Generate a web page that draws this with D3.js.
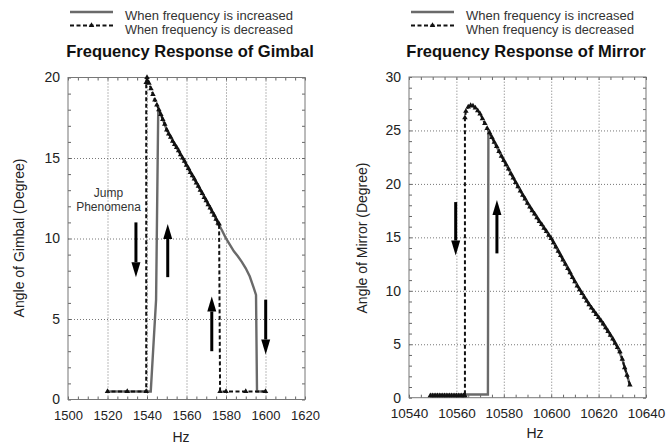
<!DOCTYPE html>
<html>
<head>
<meta charset="utf-8">
<script src="https://cdn.jsdelivr.net/npm/d3@7"></script>
<style>
  body { margin: 0; background: #fff; }
  svg { font-family: Arial, "Liberation Sans", sans-serif; }
</style>
</head>
<body>
<svg width="666" height="444"></svg>
<script>
// ---- Gimbal data (Hz, degree) ----
var gimbalTicksX = [1500, 1520, 1540, 1560, 1580, 1600, 1620];
var gimbalTicksY = [0, 5, 10, 15, 20];
// frequency increased (solid)
var gimbalUp = [[1520,0.5],[1530,0.5],[1541.9,0.5],[1544.6,6.2],[1545.7,18.1],[1548,17.4],[1550,16.75],
  [1552,16.3],[1555,15.65],[1558,15.0],[1562,14.1],[1566,13.25],[1570,12.35],[1574,11.45],[1576,10.95],
  [1578,10.5],[1580,10.0],[1582,9.6],[1584,9.2],[1586,8.9],[1588,8.55],[1590,8.15],[1592,7.65],
  [1594,6.95],[1595.2,6.5],[1595.7,0.5],[1600,0.5]];
// frequency decreased (dashed + triangles)
var gimbalDown = [[1600,0.5],[1590,0.5],[1580,0.5],[1577,0.5],[1576.5,10.9],[1576,10.95],[1575,11.2],
  [1574,11.45],[1573,11.65],[1572,11.9],[1571,12.1],[1570,12.35],[1569,12.55],[1568,12.8],[1567,13.0],
  [1566,13.25],[1565,13.45],[1564,13.7],[1563,13.9],[1562,14.1],[1561,14.35],[1560,14.55],[1559,14.8],
  [1558,15.0],[1557,15.2],[1556,15.45],[1555,15.65],[1554,15.85],[1553,16.05],[1552,16.3],[1551,16.5],
  [1550,16.75],[1549,17.1],[1548,17.4],[1547,17.7],[1546,18.0],[1545,18.3],[1544,18.6],[1543,18.95],
  [1542,19.3],[1541,19.65],[1540,20.0],[1539.6,19.7],[1539.6,0.5],[1530,0.5],[1520,0.5]];
// arrows: [freq, from angle, to angle]
var gimbalArrows = [[1534.4,11.0,7.6],[1550.5,7.6,10.9],[1572.8,3.0,6.4],[1600.1,6.2,2.8]];

// ---- Mirror data (Hz, degree) ----
var mirrorTicksX = [10540, 10560, 10580, 10600, 10620, 10640];
var mirrorTicksY = [0, 5, 10, 15, 20, 25, 30];
var mirrorUp = [[10549,0.3],[10573.3,0.3],[10573.5,25.0],[10576,23.9],[10580,22.2],[10585,20.15],
  [10590,18.2],[10595,16.5],[10600,14.9],[10605,12.9],[10610,10.85],[10615,9.05],[10620,7.5],
  [10625,5.85],[10628,4.7],[10630,3.6],[10633.2,1.2]];
var mirrorDown = [[10633.2,1.2],[10632,2.1],[10631,2.8],[10630,3.6],[10629,4.3],[10628,4.7],[10627,5.1],
  [10626,5.5],[10625,5.85],[10624,6.2],[10623,6.55],[10622,6.9],[10621,7.2],[10620,7.5],[10619,7.8],
  [10618,8.1],[10617,8.4],[10616,8.7],[10615,9.05],[10614,9.4],[10613,9.75],[10612,10.1],[10611,10.45],
  [10610,10.85],[10609,11.25],[10608,11.7],[10607,12.1],[10606,12.5],[10605,12.9],[10604,13.3],
  [10603,13.7],[10602,14.1],[10601,14.5],[10600,14.9],[10599,15.2],[10598,15.55],[10597,15.85],
  [10596,16.2],[10595,16.5],[10594,16.85],[10593,17.2],[10592,17.5],[10591,17.85],[10590,18.2],
  [10589,18.6],[10588,18.95],[10587,19.35],[10586,19.75],[10585,20.15],[10584,20.55],[10583,20.95],
  [10582,21.4],[10581,21.8],[10580,22.2],[10579,22.6],[10578,23.05],[10577,23.5],[10576,23.9],
  [10575,24.35],[10574,24.8],[10573,25.2],[10572,25.65],[10571,26.1],[10570,26.55],[10569,26.85],
  [10568,27.1],[10567,27.3],[10566,27.35],[10565,27.2],[10564,26.8],[10563.6,26.2],[10563.6,0.2],
  [10563,0.2],[10562,0.2],[10561,0.2],[10560,0.2],[10559,0.2],[10558,0.2],[10557,0.2],[10556,0.2],
  [10555,0.2],[10554,0.2],[10553,0.2],[10552,0.2],[10551,0.2],[10550,0.2],[10549,0.2]];
var mirrorArrows = [[10559.7,18.3,13.3],[10577.1,13.5,18.5]];

var legendLabels = ["When frequency is increased", "When frequency is decreased"];

var svg = d3.select("svg");
var tri = d3.symbol().type(d3.symbolTriangle).size(13);

function panel(o) {
  var x = d3.scaleLinear().domain(o.xDomain).range([o.left, o.right]);
  var y = d3.scaleLinear().domain(o.yDomain).range([o.bottom, o.top]);
  var g = svg.append("g");
  var w = o.right - o.left, h = o.bottom - o.top;

  // grid
  g.append("g").attr("transform", "translate(0," + o.bottom + ")")
    .call(d3.axisBottom(x).tickValues(o.ticksX.slice(1, -1)).tickSize(-h).tickFormat(""))
    .call(a => a.select(".domain").remove())
    .selectAll("line").attr("stroke", "#777").attr("stroke-dasharray", "1,2");
  g.append("g").attr("transform", "translate(" + o.left + ",0)")
    .call(d3.axisLeft(y).tickValues(o.ticksY.slice(1, -1)).tickSize(-w).tickFormat(""))
    .call(a => a.select(".domain").remove())
    .selectAll("line").attr("stroke", "#777").attr("stroke-dasharray", "1,2");

  // minor ticks on all four sides
  var mx = d3.range(o.xDomain[0], o.xDomain[1] + 0.01, o.minorX);
  var my = d3.range(o.yDomain[0], o.yDomain[1] + 0.01, o.minorY);
  var sides = [
    [d3.axisBottom(x).tickValues(mx), "translate(0," + o.bottom + ")"],
    [d3.axisTop(x).tickValues(mx), "translate(0," + o.top + ")"],
    [d3.axisLeft(y).tickValues(my), "translate(" + o.left + ",0)"],
    [d3.axisRight(y).tickValues(my), "translate(" + o.right + ",0)"]
  ];
  sides.forEach(function(s) {
    g.append("g").attr("transform", s[1])
      .call(s[0].tickSize(-3).tickFormat(""))
      .call(a => a.select(".domain").remove())
      .selectAll("line").attr("stroke", "#666");
  });

  // frame
  g.append("rect").attr("x", o.left).attr("y", o.top).attr("width", w).attr("height", h)
    .attr("fill", "none").attr("stroke", "#777").attr("stroke-width", 1);

  // tick labels
  g.append("g").attr("transform", "translate(0," + (o.bottom + 7) + ")")
    .call(d3.axisBottom(x).tickValues(o.ticksX).tickSize(0).tickPadding(4).tickFormat(d3.format("d")))
    .call(a => a.select(".domain").remove())
    .selectAll("text").attr("font-size", o.xFont).attr("fill", "#222").attr("font-family", null);
  g.append("g").attr("transform", "translate(" + (o.left - 6) + ",0)")
    .call(d3.axisLeft(y).tickValues(o.ticksY).tickSize(0).tickPadding(2).tickFormat(d3.format("d")))
    .call(a => a.select(".domain").remove())
    .selectAll("text").attr("font-size", 14).attr("fill", "#222").attr("font-family", null);

  // lines
  var line = d3.line().x(d => x(d[0])).y(d => y(d[1]));
  g.append("path").datum(o.up).attr("d", line).attr("fill", "none")
    .attr("stroke", "#6a6a6a").attr("stroke-width", 2.4);
  g.append("path").datum(o.down).attr("d", line).attr("fill", "none")
    .attr("stroke", "#111").attr("stroke-width", 2).attr("stroke-dasharray", "4,2.5");
  g.selectAll(".mk").data(o.down).enter().append("path")
    .attr("d", tri).attr("fill", "#111")
    .attr("transform", d => "translate(" + x(d[0]) + "," + y(d[1]) + ")");

  // arrows
  o.arrows.forEach(function(a) {
    var ax = x(a[0]), y0 = y(a[1]), y1 = y(a[2]);
    var dir = y1 > y0 ? 1 : -1;
    var base = y1 - dir * 15;
    g.append("line").attr("x1", ax).attr("x2", ax).attr("y1", y0).attr("y2", base)
      .attr("stroke", "#000").attr("stroke-width", 3);
    g.append("path")
      .attr("d", "M" + (ax - 4.5) + "," + base + "L" + (ax + 4.5) + "," + base + "L" + ax + "," + y1 + "Z")
      .attr("fill", "#000");
  });

  // titles and legend
  g.append("text").attr("x", o.titleX).attr("y", 57).attr("text-anchor", "middle")
    .attr("font-size", 16.5).attr("font-weight", "bold").attr("fill", "#111").text(o.title);
  g.append("line").attr("x1", o.legX).attr("x2", o.legX + 43).attr("y1", 12).attr("y2", 12)
    .attr("stroke", "#6a6a6a").attr("stroke-width", 2.4);
  g.append("line").attr("x1", o.legX).attr("x2", o.legX + 43).attr("y1", 25.5).attr("y2", 25.5)
    .attr("stroke", "#111").attr("stroke-width", 2).attr("stroke-dasharray", "4,2.5");
  g.append("path").attr("d", tri).attr("fill", "#111")
    .attr("transform", "translate(" + (o.legX + 21.5) + ",25.5)");
  legendLabels.forEach(function(t, i) {
    g.append("text").attr("x", o.legX + 55).attr("y", 20 + i * 13.5)
      .attr("font-size", 12).attr("textLength", 168).attr("lengthAdjust", "spacingAndGlyphs")
      .attr("fill", "#333").text(t);
  });

  // axis titles
  g.append("text").attr("transform", "translate(" + o.yLabX + "," + o.yLabY + ") rotate(-90)")
    .attr("text-anchor", "middle").attr("font-size", 14).attr("fill", "#222").text(o.yLabel);
  g.append("text").attr("x", o.hzX).attr("y", o.hzY).attr("text-anchor", "middle")
    .attr("font-size", 14).attr("fill", "#222").text("Hz");
  return {g: g, x: x, y: y};
}

var pg = panel({
  xDomain: [1500, 1620], yDomain: [0, 20], left: 68, right: 305, top: 77.5, bottom: 399.5,
  ticksX: gimbalTicksX, ticksY: gimbalTicksY, minorX: 5, minorY: 1, xFont: 13,
  up: gimbalUp, down: gimbalDown, arrows: gimbalArrows,
  title: "Frequency Response of Gimbal", titleX: 190, legX: 70,
  yLabel: "Angle of Gimbal (Degree)", yLabX: 24, yLabY: 238, hzX: 181, hzY: 442
});
pg.g.append("text").attr("x", pg.x(1520.5)).attr("y", pg.y(12.6)).attr("text-anchor", "middle")
  .attr("font-size", 12).attr("fill", "#333").text("Jump");
pg.g.append("text").attr("x", pg.x(1520.5)).attr("y", pg.y(11.7)).attr("text-anchor", "middle")
  .attr("font-size", 12).attr("fill", "#333").text("Phenomena");

panel({
  xDomain: [10540, 10640], yDomain: [0, 30], left: 409, right: 646, top: 77, bottom: 397.7,
  ticksX: mirrorTicksX, ticksY: mirrorTicksY, minorX: 5, minorY: 1, xFont: 13.5,
  up: mirrorUp, down: mirrorDown, arrows: mirrorArrows,
  title: "Frequency Response of Mirror", titleX: 526, legX: 411,
  yLabel: "Angle of Mirror (Degree)", yLabX: 367, yLabY: 238, hzX: 535, hzY: 438
});
</script>
</body>
</html>
